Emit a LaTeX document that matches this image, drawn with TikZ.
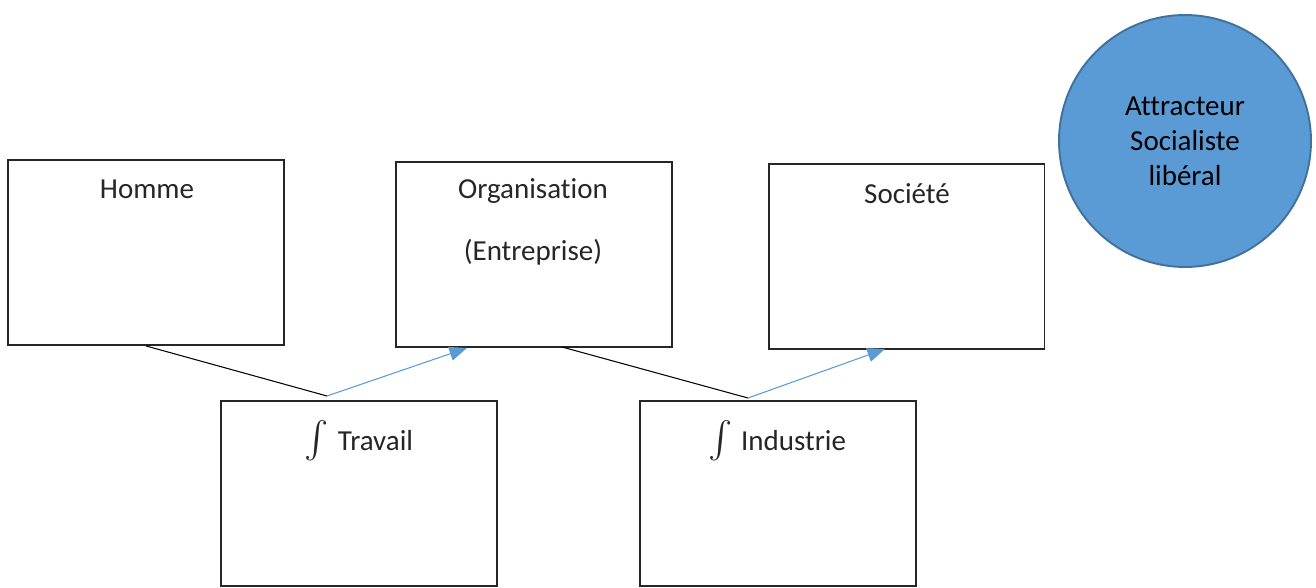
\documentclass[tikz,border=0pt]{standalone}
\usepackage{fontspec}
\setmainfont{Carlito}[Ligatures=NoCommon]
\usepackage{amsmath}
\usepackage{xcolor}
\usetikzlibrary{arrows.meta}
\definecolor{bleu}{HTML}{5B9BD5}
\definecolor{bleufonce}{HTML}{41719C}
\newcommand{\integrale}{{\fontsize{22}{22}\selectfont$\int$}\hspace{5pt}}

\begin{document}
\begin{tikzpicture}[x=0.02cm,y=-0.02cm,
  boite/.style={draw=black!85,line width=1.1pt,minimum width=5.52cm,minimum height=3.7cm,inner sep=0pt},
  texte/.style={font=\fontsize{16.5}{20}\selectfont,text=black!85,inner sep=0pt},
  lien/.style={black,line width=0.6pt},
  fleche/.style={bleu,line width=0.6pt,-{Triangle[length=10pt,width=8pt]}}]
%\draw[help lines] (0,0) grid[step=50] (1316,588);
\useasboundingbox (0,0) rectangle (1316,588);
\node  [boite] (homme) at (146,252.5){};
\node  [boite] (orga) at (534,254.5){};
\node  [boite] (societe) at (906.5,256.5){};
\node  [boite] (travail) at (359,493.5){};
\node  [boite] (industrie) at (778,493.5){};
\node  [circle,draw=bleufonce,line width=1.1pt,fill=bleu,minimum size=5.04cm,inner sep=0pt,
        align=center,font=\fontsize{16.5}{20}\selectfont] (attracteur) at (1185,141){Attracteur\\Socialiste\\libéral};
\node  [texte] (t1) at (147,189){Homme};
\node  [texte] (t2) at (533,191){Organisation};
\node  [texte] (t3) at (533,252){(Entreprise)};
\node  [texte] (t4) at (907,194){Société};
\node  [texte] (t5) at (359,441){\integrale Travail};
\node  [texte] (t6) at (777,441){\integrale Industrie};
\coordinate (j1) at (327,396);
\coordinate (j2) at (748,398);
\coordinate (o1) at (467,348);
\coordinate (o2) at (562,347);
\coordinate (s1) at (885,349);
\draw [lien] (homme.south) -- (j1);
\draw [fleche] (j1) -- (o1);
\draw [lien] (o2) -- (j2);
\draw [fleche] (j2) -- (s1);
\end{tikzpicture}
\end{document}
